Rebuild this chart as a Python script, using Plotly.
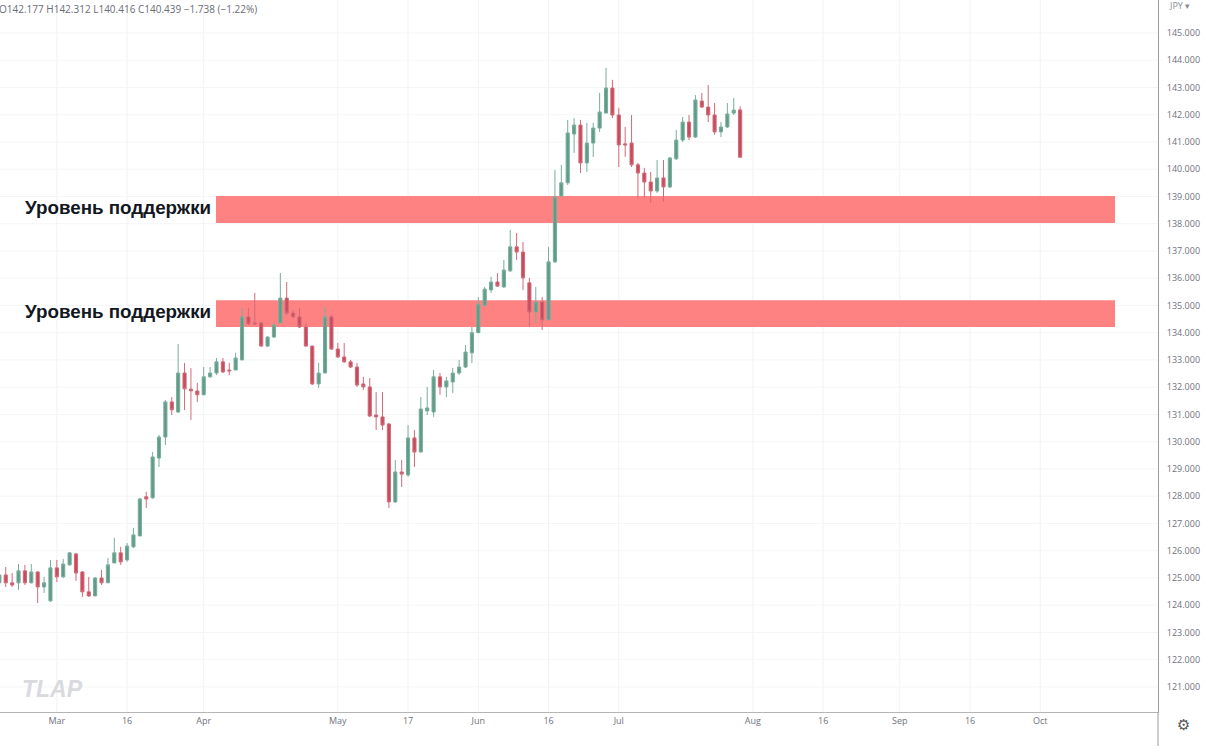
import plotly.graph_objects as go
import pandas as pd

# ---- data (CHF/JPY daily) ----
dates = pd.bdate_range("2022-02-16", "2022-07-28").strftime("%Y-%m-%d").tolist()

opens = [124.82, 125.11, 124.82, 124.82, 125.26, 124.82, 125.22, 124.67, 124.16,
         125.37, 125.04, 125.48, 125.88, 125.22, 124.49, 124.34, 125.00, 124.82, 125.55,
         125.92, 125.66, 126.14, 126.54, 127.98, 127.94, 129.40, 130.17, 131.46, 131.09,
         132.52, 131.93, 131.86,
         131.72, 132.38, 132.52, 132.93, 132.63, 132.63, 133.00, 134.58, 134.36, 134.36,
         133.51, 133.84, 134.36, 135.27, 134.72, 134.58, 134.21, 133.51, 132.12, 132.52,
         134.58,
         133.40, 133.11, 132.93, 132.74, 132.12, 132.01, 130.98, 130.91, 130.65, 127.79,
         128.89, 128.78, 130.14, 129.62, 131.13, 131.09, 132.38, 132.01, 132.19, 132.52,
         132.74, 133.26,
         134.00, 135.01, 135.57, 135.86, 135.68, 136.27, 137.15, 136.96, 135.83, 134.76,
         135.13, 134.47, 136.60, 139.02, 139.50, 141.29, 141.62, 140.23, 140.96, 141.51,
         142.06, 142.98,
         141.99, 140.93, 140.96, 140.16, 139.86, 139.53, 139.20, 139.68, 139.35, 140.38,
         141.07, 141.73, 141.18, 142.50, 142.28, 141.99, 141.37, 141.55, 142.06, 142.177]

highs = [125.29, 125.40, 125.18, 125.51, 125.48, 125.51, 125.25, 125.04, 125.66,
         125.66, 125.70, 125.95, 125.92, 125.25, 125.04, 125.04, 125.29, 125.73, 126.47,
         126.14, 126.28, 126.84, 127.94, 128.16, 129.62, 130.25, 131.53, 131.64, 133.59,
         132.89, 132.70, 132.16,
         132.74, 132.74, 133.07, 133.07, 132.89, 133.26, 134.91, 134.91, 135.46, 134.39,
         133.87, 134.36, 136.19, 135.86, 134.83, 134.91, 134.36, 133.51, 132.89, 134.94,
         134.65,
         133.62, 133.62, 133.00, 132.89, 132.38, 132.34, 131.82, 131.82, 130.69, 129.33,
         129.33, 130.61, 130.43, 131.64, 132.01, 132.63, 132.52, 132.38, 132.71, 133.00,
         133.55, 134.21,
         135.31, 135.68, 136.05, 136.19, 136.67, 137.77, 137.66, 137.33, 136.01, 135.68,
         135.31, 137.15, 139.97, 140.16, 141.81, 141.88, 141.81, 141.70, 141.70, 142.80,
         143.72, 143.28,
         142.25, 141.55, 141.99, 140.23, 140.05, 139.90, 140.34, 140.34, 140.45, 141.44,
         141.92, 141.99, 142.72, 142.80, 143.09, 142.43, 141.73, 142.43, 142.61, 142.312]

lows = [124.74, 124.67, 124.67, 124.56, 124.74, 124.80, 124.08, 124.45, 124.12,
        124.85, 125.00, 125.45, 124.89, 124.30, 124.30, 124.34, 124.74, 124.82, 125.55,
        125.48, 125.59, 126.10, 126.54, 127.57, 127.90, 129.07, 129.88, 130.98, 131.05,
        131.16, 130.80, 131.46,
        131.72, 132.34, 132.45, 132.52, 132.45, 132.63, 133.00, 134.28, 134.28, 133.48,
        133.48, 133.81, 134.36, 134.65, 134.54, 134.17, 133.48, 132.08, 131.97, 132.52,
        133.37,
        133.07, 132.89, 132.70, 132.01, 131.90, 130.91, 130.43, 130.43, 127.57, 127.75,
        128.34, 128.71, 129.07, 129.62, 130.98, 130.91, 131.72, 131.64, 131.79, 132.45,
        132.70, 132.89,
        134.00, 134.94, 135.46, 135.68, 135.64, 136.23, 136.67, 135.57, 134.21, 134.36,
        134.10, 134.47, 136.56, 138.98, 139.42, 140.60, 139.86, 139.90, 140.45, 141.37,
        142.06, 141.88,
        140.08, 140.45, 140.08, 138.94, 138.94, 138.76, 139.13, 138.80, 139.31, 140.34,
        141.00, 141.07, 141.15, 142.25, 141.73, 141.26, 141.18, 141.51, 141.99, 140.416]

closes = [125.11, 124.82, 124.74, 125.26, 124.82, 125.22, 124.67, 124.82, 125.37,
          125.04, 125.51, 125.92, 125.18, 124.49, 124.34, 125.00, 124.82, 125.48, 125.92,
          125.59, 126.17, 126.58, 127.90, 127.90, 129.44, 130.17, 131.46, 131.17, 132.52,
          131.94, 131.87, 131.72,
          132.38, 132.52, 132.93, 132.56, 132.60, 133.07, 134.58, 134.32, 134.32, 133.51,
          133.84, 134.28, 135.27, 134.72, 134.58, 134.21, 133.51, 132.12, 132.52, 134.58,
          133.40,
          133.11, 132.93, 132.74, 132.08, 132.01, 130.94, 130.91, 130.61, 127.79, 128.89,
          128.81, 130.14, 129.62, 131.20, 131.24, 132.38, 132.01, 132.23, 132.52, 132.74,
          133.29, 134.00,
          135.05, 135.60, 135.86, 135.71, 136.30, 137.15, 136.96, 136.01, 134.76, 135.13,
          134.47, 136.60, 138.98, 139.50, 141.33, 141.62, 140.23, 140.96, 141.51, 142.10,
          142.98, 141.99,
          140.89, 140.89, 140.16, 139.86, 139.53, 139.20, 139.68, 139.35, 140.41, 141.07,
          141.73, 141.18, 142.54, 142.28, 141.99, 141.37, 141.55, 142.03, 142.17, 140.439]

# support zones (price ranges)
zone_upper = (138.03, 139.02)
zone_lower = (134.21, 135.19)
zone_label = "Уровень поддержки"

tick_dates = ["2022-03-01", "2022-03-16", "2022-04-01", "2022-05-02", "2022-05-17",
              "2022-06-01", "2022-06-16", "2022-07-01", "2022-08-01", "2022-08-16",
              "2022-09-01", "2022-09-16", "2022-10-03"]
tick_text = ["Mar", "16", "Apr", "May", "17", "Jun", "16", "Jul", "Aug", "16",
             "Sep", "16", "Oct"]
price_ticks = list(range(121, 146))

header = "O142.177 H142.312 L140.416 C140.439 \u22121.738 (\u22121.22%)"

GREEN = "#5e9c88"
RED = "#c94a5c"
GRID = "#f1f2f4"

fig = go.Figure(go.Candlestick(
    x=dates, open=opens, high=highs, low=lows, close=closes,
    increasing=dict(line=dict(color="#79ad9b", width=1), fillcolor=GREEN),
    decreasing=dict(line=dict(color="#d06a78", width=1), fillcolor=RED),
    showlegend=False, hoverinfo="skip",
))

# grid drawn as below-layer shapes so the zones can cover it
for d in tick_dates:
    fig.add_shape(type="line", xref="x", yref="paper", x0=d, x1=d, y0=0, y1=1,
                  line=dict(color=GRID, width=1), layer="below")
for p in price_ticks:
    fig.add_shape(type="line", xref="paper", yref="y", x0=0, x1=1, y0=p, y1=p,
                  line=dict(color="#f4f5f7", width=1), layer="below")

W_PLOT = 1158.0
for lo, hi in (zone_upper, zone_lower):
    fig.add_shape(type="rect", xref="paper", yref="y",
                  x0=216 / W_PLOT, x1=1115 / W_PLOT, y0=lo, y1=hi,
                  fillcolor="#ff8282", line=dict(width=0), layer="below")
    fig.add_annotation(xref="paper", yref="y", x=213 / W_PLOT, y=(lo + hi) / 2,
                       text="<b>" + zone_label + "</b>", showarrow=False,
                       xanchor="right", yanchor="middle", yshift=2,
                       font=dict(family="Liberation Sans", size=18.8, color="#131722"))

# header OHLC
fig.add_annotation(xref="paper", yref="paper", x=0, y=1 - 9 / 712, text=header,
                   showarrow=False, xanchor="left", yanchor="middle", xshift=-3,
                   font=dict(family="Open Sans", size=10, color="#6a6d78"))
# currency label
fig.add_annotation(xref="paper", yref="paper", x=1, y=1 - 5 / 712, text="JPY \u25BE",
                   showarrow=False, xanchor="left", yanchor="middle", xshift=9,
                   font=dict(family="Open Sans", size=9, color="#8a8d96"))
# watermark
fig.add_annotation(xref="paper", yref="paper", x=20 / W_PLOT, y=1 - 689 / 712,
                   text="<b><i>TLAP</i></b>", showarrow=False, xanchor="left",
                   yanchor="middle",
                   font=dict(family="Liberation Sans", size=23, color="#d9dadd"))
# settings gear
fig.add_annotation(xref="paper", yref="paper", x=1, y=-13 / 712, text="\u2699",
                   showarrow=False, xanchor="center", yanchor="middle", xshift=25,
                   font=dict(family="DejaVu Sans", size=15, color="#555"))
# price-scale separator extending to bottom
fig.add_shape(type="line", xref="paper", yref="paper", x0=1, x1=1, y0=-34 / 712, y1=0,
              line=dict(color="#9a9a9a", width=1))

fig.update_layout(
    width=1208, height=750,
    margin=dict(l=0, r=50, t=0, b=38),
    paper_bgcolor="white", plot_bgcolor="white",
    font=dict(family="Open Sans", color="#787b86"),
    xaxis=dict(
        type="date",
        rangebreaks=[dict(bounds=["sat", "mon"])],
        range=["2022-02-16 02:24", "2022-10-27 10:30"],
        rangeslider=dict(visible=False),
        tickmode="array", tickvals=tick_dates, ticktext=tick_text,
        tickfont=dict(size=9, color="#6f727c"),
        showgrid=False,
        showline=True, linecolor="#b5b5b5", linewidth=1,
        ticks="", zeroline=False, fixedrange=True,
    ),
    yaxis=dict(
        side="right",
        range=[120.08, 146.21],
        tickmode="array", tickvals=price_ticks, tickformat=".3f",
        tickfont=dict(size=9, color="#6f727c"),
        showgrid=False,
        showline=True, linecolor="#9a9a9a", linewidth=1,
        ticks="", ticklabelstandoff=6, zeroline=False, fixedrange=True,
    ),
)

fig.write_html("out.html")
